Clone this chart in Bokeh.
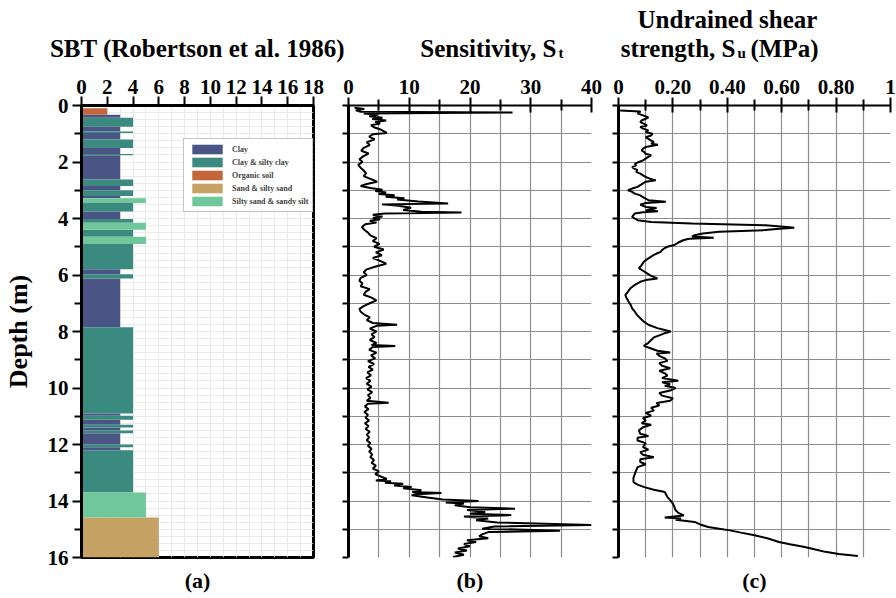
import numpy as np
from bokeh.plotting import figure
from bokeh.layouts import row, column
from bokeh.models import Range1d, FixedTicker, Label, ColumnDataSource, LinearAxis
from bokeh.embed import file_html
from bokeh.resources import INLINE

FONT = "Liberation Serif"

# ---------------- data ----------------
# (a) SBT profile: interval tops / bottoms (m) and class code
sbt_top = [0.10, 0.33, 0.43, 0.75, 0.92, 0.97, 1.20, 1.50, 1.72, 1.76, 2.62, 2.85, 3.00, 3.20,
           3.28, 3.45, 3.75, 4.02, 4.15, 4.40, 4.65, 4.90, 5.80, 5.97, 6.12, 7.85, 10.90, 10.98,
           11.12, 11.30, 11.40, 11.50, 11.60, 12.00, 12.10, 12.20, 13.70, 14.58]
sbt_bottom = [0.33, 0.43, 0.75, 0.92, 0.97, 1.20, 1.50, 1.72, 1.76, 2.62, 2.85, 3.00, 3.20, 3.28,
              3.45, 3.75, 4.02, 4.15, 4.40, 4.65, 4.90, 5.80, 5.97, 6.12, 7.85, 10.90, 10.98, 11.12,
              11.30, 11.40, 11.50, 11.60, 12.00, 12.10, 12.20, 13.70, 14.58, 16.00]
sbt_class = ["O", "C", "CS", "C", "CS", "C", "CS", "C", "CS", "C", "CS", "C", "CS", "C",
             "SS", "CS", "C", "CS", "SS", "CS", "SS", "CS", "C", "CS", "C", "CS", "C", "CS",
             "C", "CS", "C", "CS", "C", "CS", "C", "CS", "SS", "S"]
class_codes = ["C", "CS", "O", "S", "SS"]
class_names = ["Clay", "Clay & silty clay", "Organic soil", "Sand & silty sand", "Silty sand & sandy silt"]
class_zone = [3, 4, 2, 6, 5]
class_colors = ["#4b5585", "#3a8a80", "#c3663a", "#c6a264", "#70c79c"]

# (b) Sensitivity St vs depth
st_depth = [0.08, 0.12, 0.17, 0.22, 0.25, 0.28, 0.33, 0.38, 0.43, 0.48, 0.53, 0.58, 0.64, 0.70, 0.78,
            0.86, 0.97, 1.02, 1.10, 1.20, 1.30, 1.40, 1.50, 1.60, 1.70, 1.80, 1.90, 2.00, 2.10, 2.20,
            2.30, 2.40, 2.50, 2.60, 2.70, 2.78, 2.85, 2.92, 2.98, 3.03, 3.08, 3.13, 3.18, 3.23, 3.28,
            3.33, 3.40, 3.47, 3.50, 3.55, 3.62, 3.70, 3.76, 3.79, 3.82, 3.87, 3.93, 3.98, 4.03, 4.08,
            4.14, 4.20, 4.30, 4.40, 4.50, 4.60, 4.70, 4.80, 4.90, 5.00, 5.10, 5.20, 5.30, 5.40, 5.50,
            5.60, 5.70, 5.80, 5.90, 6.00, 6.10, 6.20, 6.30, 6.40, 6.50, 6.60, 6.70, 6.80, 6.90, 7.00,
            7.10, 7.20, 7.30, 7.40, 7.50, 7.60, 7.70, 7.76, 7.80, 7.90, 8.00, 8.10, 8.20, 8.30, 8.40,
            8.48, 8.51, 8.55, 8.65, 8.75, 8.85, 8.95, 9.05, 9.15, 9.25, 9.35, 9.45, 9.55, 9.65, 9.75,
            9.85, 9.95, 10.05, 10.15, 10.25, 10.35, 10.45, 10.52, 10.56, 10.65, 10.75, 10.85, 10.95,
            11.05, 11.15, 11.25, 11.35, 11.45, 11.55, 11.65, 11.75, 11.85, 11.95, 12.05, 12.15, 12.25,
            12.35, 12.45, 12.55, 12.65, 12.75, 12.85, 12.95, 13.05, 13.15, 13.22, 13.27, 13.30, 13.35,
            13.39, 13.45, 13.50, 13.55, 13.62, 13.68, 13.72, 13.76, 13.80, 13.88, 13.95, 14.00, 14.05,
            14.09, 14.15, 14.22, 14.27, 14.32, 14.39, 14.45, 14.50, 14.55, 14.62, 14.68, 14.76, 14.85,
            14.90, 14.98, 15.05, 15.10, 15.18, 15.25, 15.32, 15.39, 15.45, 15.52, 15.60, 15.68, 15.75,
            15.82, 15.90, 15.98]
st_value = [1.0, 2.6, 1.2, 2.0, 27.0, 2.5, 4.8, 3.4, 5.6, 3.9, 6.2, 4.4, 5.2, 3.7, 4.3,
            5.4, 6.3, 4.0, 3.4, 4.3, 3.0, 3.5, 2.5, 2.1, 3.3, 2.4, 1.8, 2.3, 1.6, 2.0,
            2.5, 2.9, 2.5, 3.6, 4.7, 3.0, 2.0, 3.6, 5.6, 4.4, 6.2, 5.0, 7.6, 6.1, 9.2,
            8.0, 11.5, 16.4, 5.5, 8.2, 10.3, 9.0, 12.0, 18.6, 6.0, 4.0, 5.6, 4.0, 5.2, 3.5,
            4.6, 2.8, 2.2, 2.6, 3.2, 3.6, 4.6, 4.0, 5.1, 4.2, 5.8, 4.5, 5.5, 4.0, 5.2,
            6.2, 4.5, 3.0, 2.5, 3.0, 2.0, 1.8, 2.3, 2.0, 3.5, 2.8, 2.5, 3.8, 4.6, 3.5,
            2.5, 1.8, 2.0, 2.6, 3.5, 3.0, 4.0, 8.0, 4.6, 3.5, 4.6, 3.8, 4.3, 3.5, 4.6,
            3.8, 7.7, 4.0, 3.4, 4.6, 3.7, 4.4, 3.2, 4.2, 3.3, 4.0, 3.1, 3.7, 2.9, 3.6,
            3.0, 3.8, 3.1, 3.9, 3.2, 3.6, 3.0, 6.6, 3.2, 2.7, 3.3, 2.6, 3.2,
            2.8, 3.4, 2.7, 3.3, 2.8, 3.5, 3.0, 3.4, 3.0, 3.6, 3.2, 3.8, 3.4,
            3.9, 3.6, 4.2, 3.8, 4.5, 4.0, 5.0, 4.4, 5.5, 6.3, 4.5, 7.0, 6.0,
            9.0, 7.5, 10.4, 9.0, 12.0, 10.5, 15.3, 11.0, 10.4, 13.0, 15.5, 21.4, 16.0,
            19.0, 17.5, 20.0, 27.4, 19.5, 22.5, 20.0, 26.8, 19.0, 23.0, 21.0, 24.5, 40.0,
            24.0, 22.0, 34.8, 23.0, 22.0, 21.5, 23.0, 19.5, 21.0, 19.0, 20.0, 18.0, 19.5,
            17.5, 19.0, 17.2]

# (c) Undrained shear strength Su (MPa) vs depth
su_depth = [0.18, 0.21, 0.28, 0.35, 0.42, 0.47, 0.53, 0.59, 0.65, 0.71, 0.76, 0.82, 0.88, 0.94, 1.00,
            1.06, 1.12, 1.18, 1.24, 1.29, 1.35, 1.39, 1.43, 1.47, 1.53, 1.59, 1.65, 1.71, 1.76, 1.82,
            1.88, 1.94, 2.00, 2.06, 2.12, 2.18, 2.24, 2.29, 2.35, 2.41, 2.47, 2.53, 2.59, 2.65, 2.70,
            2.76, 2.82, 2.88, 2.94, 3.00, 3.06, 3.12, 3.18, 3.24, 3.30, 3.35, 3.41, 3.45, 3.51, 3.55,
            3.59, 3.63, 3.67, 3.72, 3.74, 3.78, 3.82, 3.88, 3.94, 4.00, 4.06, 4.12, 4.18, 4.24, 4.30,
            4.33, 4.37, 4.41, 4.47, 4.53, 4.59, 4.64, 4.68, 4.72, 4.76, 4.85, 4.94, 5.00, 5.06, 5.12,
            5.18, 5.24, 5.29, 5.41, 5.53, 5.65, 5.76, 5.85, 5.94, 6.03, 6.12, 6.18, 6.24, 6.35, 6.47,
            6.59, 6.71, 6.82, 6.94, 7.06, 7.18, 7.30, 7.41, 7.53, 7.65, 7.76, 7.88, 7.95, 8.00, 8.06,
            8.12, 8.21, 8.30, 8.40, 8.51, 8.60, 8.68, 8.74, 8.78, 8.86, 8.95, 9.04, 9.12, 9.21, 9.30,
            9.39, 9.48, 9.56, 9.65, 9.74, 9.80, 9.87, 9.92, 10.00, 10.09, 10.18, 10.27, 10.36, 10.45,
            10.53, 10.62, 10.70, 10.80, 10.88, 10.98, 11.06, 11.15, 11.25, 11.30, 11.39, 11.50, 11.62,
            11.70, 11.76, 11.86, 11.95, 12.09, 12.18, 12.27, 12.36, 12.45, 12.52, 12.62, 12.70, 12.80,
            12.92, 13.04, 13.18, 13.33, 13.42, 13.51, 13.60, 13.68, 13.77, 13.86, 13.97, 14.09, 14.20,
            14.33, 14.42, 14.51, 14.58, 14.62, 14.66, 14.74, 14.83, 14.92, 14.98, 15.04, 15.12, 15.21,
            15.33, 15.45, 15.53, 15.62, 15.71, 15.80, 15.88, 15.95]
su_value = [0.006, 0.081, 0.07, 0.09, 0.11, 0.10, 0.085, 0.08, 0.095, 0.105, 0.08, 0.09, 0.11, 0.10, 0.125,
            0.12, 0.10, 0.11, 0.12, 0.13, 0.12, 0.145, 0.12, 0.10, 0.09, 0.085, 0.095, 0.10, 0.12, 0.11,
            0.10, 0.09, 0.075, 0.06, 0.065, 0.05, 0.06, 0.07, 0.065, 0.08, 0.09, 0.10, 0.115, 0.137, 0.10,
            0.09, 0.08, 0.07, 0.05, 0.035, 0.05, 0.06, 0.08, 0.09, 0.10, 0.11, 0.174, 0.10, 0.08, 0.09,
            0.10, 0.14, 0.12, 0.10, 0.145, 0.09, 0.06, 0.055, 0.05, 0.06, 0.07, 0.12, 0.27, 0.54, 0.62,
            0.646, 0.58, 0.54, 0.37, 0.31, 0.28, 0.27, 0.35, 0.26, 0.24, 0.22, 0.205, 0.18, 0.168, 0.16,
            0.155, 0.14, 0.13, 0.11, 0.093, 0.085, 0.075, 0.09, 0.105, 0.12, 0.143, 0.10, 0.08, 0.06, 0.044,
            0.035, 0.025, 0.03, 0.037, 0.045, 0.05, 0.06, 0.068, 0.08, 0.093, 0.11, 0.143, 0.17, 0.192, 0.17,
            0.155, 0.13, 0.12, 0.11, 0.093, 0.12, 0.143, 0.19, 0.14, 0.15, 0.17, 0.18, 0.15, 0.16, 0.19,
            0.15, 0.17, 0.18, 0.16, 0.22, 0.16, 0.19, 0.17, 0.21, 0.19, 0.15, 0.16, 0.20, 0.19,
            0.14, 0.15, 0.12, 0.13, 0.10, 0.12, 0.09, 0.10, 0.085, 0.12, 0.09, 0.075, 0.08,
            0.11, 0.07, 0.07, 0.10, 0.09, 0.11, 0.08, 0.09, 0.13, 0.08, 0.08, 0.10, 0.07,
            0.065, 0.06, 0.055, 0.055, 0.07, 0.095, 0.13, 0.17, 0.175, 0.18, 0.19, 0.20, 0.205,
            0.21, 0.22, 0.24, 0.17, 0.23, 0.21, 0.28, 0.30, 0.33, 0.37, 0.41, 0.45, 0.50,
            0.55, 0.59, 0.63, 0.68, 0.72, 0.76, 0.81, 0.88]

# tick definitions
depth_major_a = [0, 2, 4, 6, 8, 10, 12, 14, 16]
depth_minor_a = [1, 3, 5, 7, 9, 11, 13, 15]
depth_ticks_bc = list(range(0, 17))
sbt_ticks = [0, 2, 4, 6, 8, 10, 12, 14, 16, 18]
st_major = [0, 10, 20, 30, 40]
st_minor = [5, 15, 25, 35]
su_major = [0, 0.2, 0.4, 0.6, 0.8, 1.0]
su_minor = [0.1, 0.3, 0.5, 0.7, 0.9]
su_labels = ["0", "0.20", "0.40", "0.60", "0.80", "1"]
panel_tags = ["(a)", "(b)", "(c)"]

TICK_FS = "21px"
TITLE_FS = "25px"
HEAD_H = 66
PANEL_H = 598 - HEAD_H            # 532
TOP_B = 105 - HEAD_H              # 39
BOT_B = PANEL_H - TOP_B - 452     # 41
DY = -7                           # baseline compensation for Label placement


def style_common(p):
    p.background_fill_color = "white"
    p.border_fill_color = "white"
    for ax in p.axis:
        ax.major_label_text_font = FONT
        ax.major_label_text_font_style = "bold"
        ax.major_label_text_font_size = TICK_FS
        ax.major_label_text_color = "black"
        ax.axis_line_color = "black"
        ax.major_tick_line_color = "black"
        ax.minor_tick_line_color = "black"


def add_tag_axis(p, tag):
    ax = LinearAxis(ticker=FixedTicker(ticks=[]), axis_line_color=None,
                    major_tick_out=0, major_tick_in=0, minor_tick_out=0, minor_tick_in=0,
                    major_label_standoff=0, axis_label=tag, axis_label_standoff=10,
                    axis_label_text_font=FONT, axis_label_text_font_style="bold",
                    axis_label_text_font_size="22px", axis_label_text_color="black")
    p.add_layout(ax, "below")


def text_fig(h):
    f = figure(width=896, height=h, x_range=Range1d(0, 896), y_range=Range1d(h, 0),
               x_axis_type=None, y_axis_type=None, output_backend="svg", toolbar_location=None,
               min_border=0)
    f.outline_line_color = None
    f.grid.visible = False
    f.background_fill_color = "white"
    f.border_fill_color = "white"
    return f


def add_label(p, x, y, text, size=TITLE_FS, align="center"):
    p.add_layout(Label(x=x, y=y + DY, text=text, text_font=FONT, text_font_style="bold",
                       text_font_size=size, text_align=align, text_baseline="alphabetic",
                       text_color="black"))


# ---------------- panel (a) ----------------
pa = figure(width=331, height=PANEL_H, x_range=Range1d(0, 18), y_range=Range1d(16, 0),
            x_axis_location="above", output_backend="svg", toolbar_location=None,
            min_border_left=79, min_border_right=18, min_border_top=TOP_B, min_border_bottom=BOT_B)
style_common(pa)
pa.outline_line_color = "black"
pa.outline_line_width = 3
pa.outline_line_alpha = 1

pa.xaxis.ticker = FixedTicker(ticks=sbt_ticks)
pa.xaxis.major_tick_out = 9
pa.xaxis.major_tick_in = 0
pa.xaxis.minor_tick_out = 0
pa.xaxis.axis_line_width = 3
pa.xaxis.major_tick_line_width = 2
pa.xaxis.major_label_standoff = 3

pa.yaxis.ticker = FixedTicker(ticks=depth_major_a, minor_ticks=depth_minor_a)
pa.yaxis.major_tick_out = 9
pa.yaxis.major_tick_in = 0
pa.yaxis.minor_tick_out = 7
pa.yaxis.minor_tick_in = 0
pa.yaxis.axis_line_width = 3
pa.yaxis.major_tick_line_width = 2
pa.yaxis.minor_tick_line_width = 2
pa.yaxis.major_label_standoff = 4
pa.yaxis.axis_label = "Depth (m)"
pa.yaxis.axis_label_text_font = FONT
pa.yaxis.axis_label_text_font_style = "bold"
pa.yaxis.axis_label_text_font_size = "26px"
pa.yaxis.axis_label_text_color = "black"
pa.yaxis.axis_label_standoff = 12

pa.xgrid.ticker = FixedTicker(ticks=list(np.arange(0, 18.01, 1.0)))
pa.ygrid.ticker = FixedTicker(ticks=list(np.arange(0, 16.01, 0.25)))
pa.xgrid.grid_line_color = "#e6e6e6"
pa.ygrid.grid_line_color = "#e6e6e6"
pa.xgrid.grid_line_width = 0.8
pa.ygrid.grid_line_width = 0.8

for code, name, zone, col in zip(class_codes, class_names, class_zone, class_colors):
    idx = [i for i, c in enumerate(sbt_class) if c == code]
    src = ColumnDataSource(dict(top=[sbt_top[i] for i in idx],
                                bottom=[sbt_bottom[i] for i in idx],
                                left=[0] * len(idx),
                                right=[zone] * len(idx)))
    pa.quad(left="left", right="right", top="top", bottom="bottom", source=src,
            fill_color=col, line_color=None, legend_label=name)

lg = pa.legend[0]
lg.location = (102, 345)
lg.label_text_font = FONT
lg.label_text_font_style = "bold"
lg.label_text_font_size = "8px"
lg.glyph_width = 38
lg.glyph_height = 12
lg.label_height = 12
lg.label_standoff = 6
lg.spacing = 1
lg.padding = 4
lg.margin = 0
lg.border_line_color = "#8a8a8a"
lg.border_line_width = 1
lg.background_fill_alpha = 1

add_tag_axis(pa, panel_tags[0])

# ---------------- panels (b), (c) ----------------
GRID_COL = "#8c8c8c"


def style_bc(p, major, minor):
    style_common(p)
    p.outline_line_color = None
    p.xaxis.ticker = FixedTicker(ticks=major, minor_ticks=minor)
    p.xaxis.major_tick_out = 8
    p.xaxis.major_tick_in = 7
    p.xaxis.minor_tick_out = 6
    p.xaxis.minor_tick_in = 5
    p.xaxis.axis_line_width = 2
    p.xaxis.major_tick_line_width = 2
    p.xaxis.minor_tick_line_width = 2
    p.xaxis.major_label_standoff = 4
    p.yaxis.ticker = FixedTicker(ticks=depth_ticks_bc, minor_ticks=[])
    p.yaxis.major_label_overrides = {t: "" for t in depth_ticks_bc}
    p.yaxis.major_label_standoff = 0
    p.yaxis.major_tick_out = 6
    p.yaxis.major_tick_in = 0
    p.yaxis.axis_line_width = 3
    p.yaxis.major_tick_line_width = 2
    p.xgrid.grid_line_color = GRID_COL
    p.xgrid.minor_grid_line_color = GRID_COL
    p.ygrid.grid_line_color = GRID_COL
    for g in list(p.xgrid) + list(p.ygrid):
        g.grid_line_width = 1.2
        g.minor_grid_line_width = 1.2


pb = figure(width=273, height=PANEL_H, x_range=Range1d(0, 40), y_range=Range1d(16, 0),
            x_axis_location="above", output_backend="svg", toolbar_location=None,
            min_border_left=17, min_border_right=13, min_border_top=TOP_B, min_border_bottom=BOT_B)
style_bc(pb, st_major, st_minor)
pb.line(x=st_value, y=st_depth, line_color="black", line_width=2)
add_tag_axis(pb, panel_tags[1])

pc = figure(width=292, height=PANEL_H, x_range=Range1d(0, 1), y_range=Range1d(16, 0),
            x_axis_location="above", output_backend="svg", toolbar_location=None,
            min_border_left=14, min_border_right=6, min_border_top=TOP_B, min_border_bottom=BOT_B)
style_bc(pc, su_major, su_minor)
pc.xaxis.major_label_overrides = {t: s for t, s in zip(su_major, su_labels)}
pc.line(x=su_value, y=su_depth, line_color="black", line_width=2)
add_tag_axis(pc, panel_tags[2])

# ---------------- header texts ----------------
head = text_fig(HEAD_H)
add_label(head, 197, 55, "SBT (Robertson et al. 1986)")
add_label(head, 556, 55, "Sensitivity, S", align="right")
add_label(head, 558, 59, "t", size="15px", align="left")
add_label(head, 727, 26, "Undrained shear")
add_label(head, 735, 55, "strength, S", align="right")
add_label(head, 737, 59, "u", size="15px", align="left")
add_label(head, 750, 55, "(MPa)", align="left")

layout = column(head, row(pa, pb, pc, spacing=0), spacing=0)
open("out.html", "w").write(file_html(layout, INLINE))
